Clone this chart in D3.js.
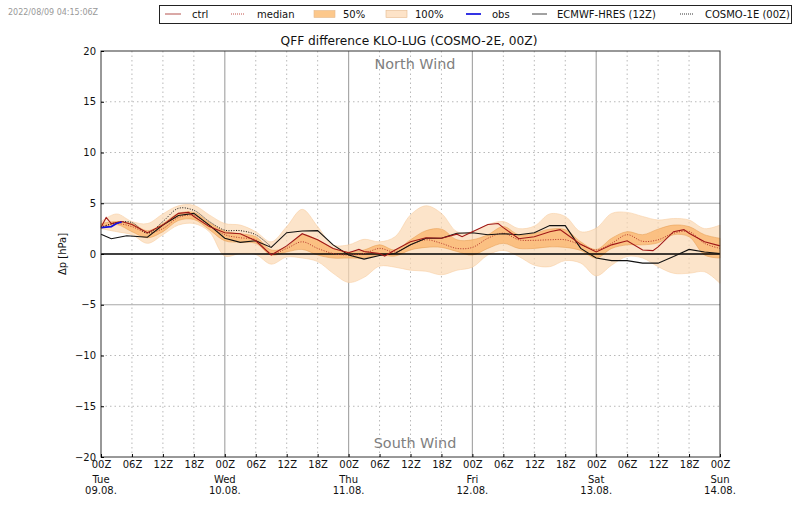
<!DOCTYPE html>
<html>
<head>
<meta charset="utf-8">
<script src="https://cdn.jsdelivr.net/npm/d3@7/dist/d3.min.js"></script>
<style>
    html, body { margin: 0; padding: 0; background: #fff; }
    svg { display: block; }
    text { font-family: "DejaVu Sans", sans-serif; fill: #111; }
    .grid-minor { stroke: #b8b8b8; stroke-dasharray: 1.5 3; stroke-width: 1; }
    .grid-major { stroke: #a8a8a8; stroke-width: 1.2; }
</style>
</head>
<body>
<svg id="chart"></svg>
<script>
// data, hours since 09.08. 00Z
const hours = d3.range(0, 121, 3);

const ensMin = [2.5, 2.2, 1.9, 1.05, 1.9, 2.85, 3.0, 2.2, -0.2, 0.05, -0.05, -1.0, -0.3, -0.4, -0.75, -1.9, -2.8, -2.3, -1.2, -1.3, -1.6, -1.7, -2.05, -1.6, -1.3, -0.1, 0.35, -0.25, -1.1, -1.25, -0.65, -0.9, -2.15, -1.1, -0.25, -0.4, -1.25, -1.9, -1.9, -1.75, -2.9];
const ensMax = [3.2, 3.95, 3.2, 3.0, 3.95, 4.75, 4.8, 3.85, 3.0, 2.85, 2.2, 1.2, 2.7, 4.4, 2.7, 0.9, 0.9, 1.45, 1.2, 1.7, 3.85, 4.75, 4.0, 2.2, 2.2, 2.9, 3.2, 2.5, 2.75, 3.95, 3.7, 2.2, 2.55, 4.0, 4.1, 3.7, 3.35, 3.5, 3.35, 2.5, 2.85];
const p25 = [2.5, 2.9, 2.2, 1.6, 2.2, 3.3, 3.4, 2.4, 1.3, 1.15, 1.05, -0.1, 0.2, 0.45, -0.1, -0.4, -0.4, -0.4, -0.1, -0.2, 0.4, 0.65, 0.65, 0.25, -0.1, 0.55, 1.05, 0.55, 0.55, 0.7, 0.65, 0.35, -0.4, 0.55, 0.9, 0.9, 1.1, 1.9, 1.7, -0.1, -0.4];
const p75 = [3.0, 3.2, 3.0, 2.3, 3.0, 4.0, 4.1, 3.1, 2.25, 2.0, 1.7, 0.4, 0.7, 1.9, 1.4, 0.55, 0.2, 0.4, 0.9, 0.4, 1.4, 2.3, 2.45, 1.4, 1.4, 1.9, 2.7, 1.9, 2.05, 2.45, 2.4, 1.2, 0.45, 1.55, 2.2, 1.9, 2.45, 2.85, 2.7, 1.9, 1.55];
const median = [2.7, 3.0, 2.7, 2.1, 2.5, 3.6, 3.8, 2.8, 1.9, 1.6, 1.4, 0.05, 0.55, 1.2, 0.55, 0.05, -0.1, 0.05, 0.55, 0.2, 0.9, 1.4, 1.05, 0.55, 0.65, 1.55, 2.05, 1.4, 1.35, 1.4, 1.4, 0.9, 0.4, 1.05, 1.9, 1.25, 1.4, 2.05, 2.2, 1.05, 0.55];

const ctrlHours = [0, 1, 2, 3, 4, 6, 9, 12, 15, 17, 18, 21, 24, 27, 30, 33, 36, 39, 42, 45, 48, 50, 51, 54, 55, 57, 60, 63, 66, 69, 70, 72, 75, 77, 78, 81, 84, 87, 89, 90, 93, 96, 99, 102, 105, 107, 108, 111, 113, 114, 117, 120];
const ctrl = [2.6, 3.6, 3.0, 3.1, 3.2, 2.9, 2.1, 2.85, 4.0, 4.1, 3.7, 2.7, 2.1, 2.0, 1.3, -0.1, 0.8, 2.0, 1.4, 0.55, 0.13, 0.45, 0.25, 0.05, -0.2, 0.4, 1.2, 1.6, 1.55, 1.95, 1.7, 2.2, 2.9, 3.0, 2.6, 1.5, 1.7, 2.2, 2.4, 2.05, 0.95, 0.2, 0.9, 1.3, 0.4, 0.33, 0.7, 2.2, 2.4, 2.05, 1.2, 0.8];

const hresHours = [0, 2, 3, 5, 9, 12, 15, 18, 21, 24, 27, 30, 33, 36, 39, 42, 45, 48, 51, 54, 57, 60, 63, 66, 69, 72, 75, 78, 81, 84, 87, 90, 93, 96, 99, 102, 105, 108, 111, 114, 117, 120];
const hres = [1.95, 1.5, 1.6, 1.8, 1.65, 2.85, 3.8, 4.0, 2.85, 1.55, 1.15, 1.3, 0.65, 2.1, 2.27, 2.3, 0.9, -0.1, -0.5, -0.15, 0.05, 0.9, 1.55, 1.55, 2.05, 2.1, 1.9, 2.0, 1.9, 2.1, 2.8, 2.8, 0.55, -0.4, -0.65, -0.65, -0.9, -0.9, -0.25, 0.45, 0.2, 0.05];

const cosmo1Hours = d3.range(0, 34, 3);
const cosmo1 = [2.6, 3.1, 3.1, 2.05, 3.2, 4.5, 4.3, 3.2, 2.35, 2.3, 1.9, 0.7];

const obsHours = [0, 1, 2, 3, 4];
const obs = [2.6, 2.65, 2.7, 3.0, 3.15];

const dayTicks = [0, 24, 48, 72, 96, 120];
const dayNames = ['Tue', 'Wed', 'Thu', 'Fri', 'Sat', 'Sun'];
const dayDates = ['09.08.', '10.08.', '11.08.', '12.08.', '13.08.', '14.08.'];
const hourTicks = d3.range(0, 121, 6);
const valueTicks = d3.range(-20, 21, 5);

const width = 800;
const height = 509;
const plotLeft = 101, plotRight = 720, plotTop = 51, plotBottom = 457;

const svg = d3.select('#chart').attr('width', width).attr('height', height);

const x = d3.scaleLinear().domain([0, 120]).range([plotLeft, plotRight]);
const y = d3.scaleLinear().domain([-20, 20]).range([plotBottom, plotTop]);

// grid
svg.append('g').selectAll('line')
    .data(hourTicks.filter(h => h > 0 && h < 120))
    .join('line')
    .attr('class', h => h % 24 === 0 ? 'grid-major' : 'grid-minor')
    .attr('x1', h => x(h)).attr('x2', h => x(h))
    .attr('y1', plotTop).attr('y2', plotBottom);

svg.append('g').selectAll('line')
    .data(valueTicks.filter(v => v !== 0 && Math.abs(v) < 20))
    .join('line')
    .attr('class', v => Math.abs(v) === 5 ? 'grid-major' : 'grid-minor')
    .attr('x1', plotLeft).attr('x2', plotRight)
    .attr('y1', v => y(v)).attr('y2', v => y(v));

// bands
const band = (lo, hi) => d3.area()
    .curve(d3.curveCatmullRom)
    .x((d, i) => x(hours[i]))
    .y0((d, i) => y(lo[i]))
    .y1((d, i) => y(hi[i]))(hours);

svg.append('path').attr('d', band(ensMin, ensMax))
    .attr('fill', '#fbd9b4').attr('fill-opacity', 0.7)
    .attr('stroke', '#f6c999').attr('stroke-width', 0.5);
svg.append('path').attr('d', band(p25, p75))
    .attr('fill', '#fbb469').attr('fill-opacity', 0.75)
    .attr('stroke', '#e59a4e').attr('stroke-width', 0.5);

// zero line
svg.append('line')
    .attr('x1', plotLeft).attr('x2', plotRight)
    .attr('y1', y(0)).attr('y2', y(0))
    .attr('stroke', '#000').attr('stroke-width', 1.3);

// lines
const drawLine = (xs, ys, color, w, dash, curve) => svg.append('path')
    .attr('d', d3.line().curve(curve || d3.curveLinear).x((d, i) => x(xs[i])).y((d, i) => y(ys[i]))(xs))
    .attr('fill', 'none')
    .attr('stroke', color)
    .attr('stroke-width', w)
    .attr('stroke-dasharray', dash);

drawLine(hours, median, '#b5342a', 1, '1 1.5', d3.curveCatmullRom);
drawLine(cosmo1Hours, cosmo1, '#111', 1, '1 1.5', d3.curveCatmullRom);
drawLine(hresHours, hres, '#111', 1.1, null);
drawLine(ctrlHours, ctrl, '#a01818', 1.1, null);
drawLine(obsHours, obs, '#1010e0', 1.7, null);

// frame
svg.append('rect')
    .attr('x', plotLeft).attr('y', plotTop)
    .attr('width', plotRight - plotLeft).attr('height', plotBottom - plotTop)
    .attr('fill', 'none').attr('stroke', '#333').attr('stroke-width', 1);

// axes
const yAxis = svg.append('g')
    .attr('transform', `translate(${plotLeft},0)`)
    .call(d3.axisLeft(y).tickValues(valueTicks).tickSize(-3).tickPadding(5));
yAxis.select('.domain').remove();
yAxis.selectAll('text').attr('font-size', 10);

const xAxis = svg.append('g')
    .attr('transform', `translate(0,${plotBottom})`)
    .call(d3.axisBottom(x).tickValues(hourTicks).tickSize(-3).tickPadding(4)
        .tickFormat(h => d3.format('02')(h % 24) + 'Z'));
xAxis.select('.domain').remove();
xAxis.selectAll('text').attr('font-size', 10);

svg.append('g').selectAll('text')
    .data(dayNames)
    .join('text')
    .attr('x', (d, i) => x(dayTicks[i]))
    .attr('y', 483)
    .attr('text-anchor', 'middle')
    .attr('font-size', 10)
    .text(d => d);

svg.append('g').selectAll('text')
    .data(dayDates)
    .join('text')
    .attr('x', (d, i) => x(dayTicks[i]))
    .attr('y', 494)
    .attr('text-anchor', 'middle')
    .attr('font-size', 10)
    .text(d => d);

// labels
svg.append('text')
    .attr('transform', 'translate(66,254) rotate(-90)')
    .attr('text-anchor', 'middle')
    .attr('font-size', 10)
    .text('\u0394p [hPa]');

svg.append('text')
    .attr('x', 409).attr('y', 45)
    .attr('text-anchor', 'middle')
    .attr('font-size', 12.2)
    .text('QFF difference KLO-LUG (COSMO-2E, 00Z)');

svg.append('text')
    .attr('x', 415).attr('y', 69)
    .attr('text-anchor', 'middle')
    .attr('font-size', 14.4)
    .style('fill', '#808080')
    .text('North Wind');

svg.append('text')
    .attr('x', 415).attr('y', 448)
    .attr('text-anchor', 'middle')
    .attr('font-size', 14.4)
    .style('fill', '#808080')
    .text('South Wind');

svg.append('text')
    .attr('x', 8).attr('y', 15)
    .attr('font-size', 8)
    .style('fill', '#999')
    .text('2022/08/09 04:15:06Z');

// legend
svg.append('rect')
    .attr('x', 159.5).attr('y', 5.5)
    .attr('width', 632).attr('height', 18)
    .attr('fill', '#fff').attr('stroke', '#222').attr('stroke-width', 1);

const legendLabels = ['ctrl', 'median', '50%', '100%', 'obs', 'ECMWF-HRES (12Z)', 'COSMO-1E (00Z)'];
const legendText = [192, 257, 343, 415, 492, 557, 705];
const legendKeyFrom = [165, 231, 314, 386, 466, 532, 680];
const legendKeyTo = [181, 245, 335, 407, 481, 547, 694];
const legendColor = ['#b5524e', '#c0504a', null, null, '#1010e0', '#444', '#333'];
const legendDash = [null, '1 1', null, null, null, null, '1 1'];
const legendFill = [null, null, '#fcc88c', '#fde3c8', null, null, null];

const legend = svg.append('g');
legendLabels.forEach((label, i) => {
    if (legendFill[i]) {
        legend.append('rect')
            .attr('x', legendKeyFrom[i]).attr('y', 10.5)
            .attr('width', legendKeyTo[i] - legendKeyFrom[i]).attr('height', 7)
            .attr('fill', legendFill[i])
            .attr('stroke', '#e5b98c').attr('stroke-width', 0.6);
    } else {
        legend.append('line')
            .attr('x1', legendKeyFrom[i]).attr('x2', legendKeyTo[i])
            .attr('y1', 14).attr('y2', 14)
            .attr('stroke', legendColor[i])
            .attr('stroke-width', i === 4 ? 1.7 : 1)
            .attr('stroke-dasharray', legendDash[i]);
    }
    legend.append('text')
        .attr('x', legendText[i]).attr('y', 17.5)
        .attr('font-size', 10)
        .text(label);
});
</script>
</body>
</html>
